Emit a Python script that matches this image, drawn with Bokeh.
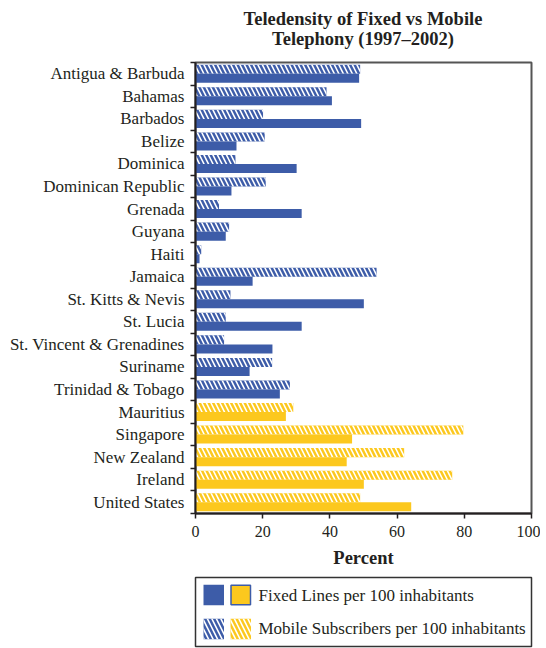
from bokeh.plotting import figure
from bokeh.models import Range1d, FixedTicker, Div, ColumnDataSource
from bokeh.layouts import column
from bokeh.core.properties import value
from bokeh.embed import file_html
from bokeh.resources import INLINE

countries = ["Antigua & Barbuda", "Bahamas", "Barbados", "Belize", "Dominica",
             "Dominican Republic", "Grenada", "Guyana", "Haiti", "Jamaica",
             "St. Kitts & Nevis", "St. Lucia", "St. Vincent & Grenadines",
             "Suriname", "Trinidad & Tobago", "Mauritius", "Singapore",
             "New Zealand", "Ireland", "United States"]
fixed_lines = [48.7, 40.6, 49.3, 12.2, 30.1, 10.7, 31.6, 9.0, 1.2, 17.0,
               50.1, 31.6, 22.9, 16.1, 25.1, 26.9, 46.6, 45.0, 50.1, 64.2]
mobile_subs = [49.0, 39.0, 20.1, 20.6, 11.9, 20.9, 7.0, 10.0, 1.7, 53.9,
               10.4, 9.0, 8.5, 22.8, 28.1, 29.1, 79.7, 62.1, 76.4, 49.0]
groups = ["Caribbean"] * 15 + ["Comparison"] * 5
x_ticks = [0, 20, 40, 60, 80, 100]
title_lines = ["Teledensity of Fixed vs Mobile", "Telephony (1997\u20132002)"]
legend_labels = ["Fixed Lines per 100 inhabitants", "Mobile Subscribers per 100 inhabitants"]

BLUE = "#3d5ca8"
YELLOW = "#fcc81e"
TEXT = "#231f20"
FONT = "Liberation Serif"
HATCH = dict(hatch_pattern="\\", hatch_color="white", hatch_scale=9, hatch_weight=1.6)
colors = [BLUE if g == "Caribbean" else YELLOW for g in groups]

n = len(countries)
centers = [i + 0.5 for i in range(n)]
src = ColumnDataSource(dict(
    country=countries,
    fixed=fixed_lines,
    mobile=mobile_subs,
    y_mobile=[c - 0.2 for c in centers],
    y_fixed=[c + 0.2 for c in centers],
    color=colors,
))

# two-line centred title above the plot frame
title_div = Div(text="<br>".join(title_lines), width=336, height=50,
                margin=(0, 0, 0, 195),
                styles={"font-family": FONT, "font-size": "18.5px", "font-weight": "bold",
                        "line-height": "20px", "text-align": "center", "color": TEXT,
                        "padding-top": "9px", "box-sizing": "border-box"})

p = figure(width=540, height=520, x_range=Range1d(0, 100), y_range=Range1d(n, 0),
           min_border_left=195, min_border_right=9, min_border_top=12,
           min_border_bottom=57, toolbar_location=None, output_backend="svg",
           title=None)

p.hbar(y="y_mobile", right="mobile", left=0, height=0.4, source=src,
       fill_color="color", line_color=None, **HATCH)
p.hbar(y="y_fixed", right="fixed", left=0, height=0.4, source=src,
       fill_color="color", line_color=None)

p.grid.visible = False
p.outline_line_color = "#555555"
p.outline_line_width = 2
p.background_fill_color = "white"
p.border_fill_color = "white"

yax = p.yaxis[0]
yax.ticker = FixedTicker(ticks=centers, minor_ticks=list(range(n + 1)))
yax.major_label_overrides = {c: name for c, name in zip(centers, countries)}
yax.major_tick_out = 0
yax.major_tick_in = 0
yax.minor_tick_out = 5
yax.minor_tick_in = 0
yax.minor_tick_line_color = TEXT
yax.minor_tick_line_width = 1.5
yax.major_label_standoff = 6
yax.major_label_text_font = FONT
yax.major_label_text_font_size = "17px"
yax.major_label_text_color = TEXT
yax.axis_line_color = TEXT
yax.axis_line_width = 2

xax = p.xaxis[0]
xax.ticker = FixedTicker(ticks=x_ticks)
xax.major_tick_out = 5
xax.major_tick_in = 0
xax.minor_tick_out = 0
xax.minor_tick_in = 0
xax.major_tick_line_color = TEXT
xax.major_tick_line_width = 1.5
xax.major_label_standoff = 7
xax.major_label_text_font = FONT
xax.major_label_text_font_size = "16px"
xax.major_label_text_color = TEXT
xax.axis_line_color = TEXT
xax.axis_line_width = 2
xax.axis_label = "Percent"
xax.axis_label_text_font = FONT
xax.axis_label_text_font_size = "18.5px"
xax.axis_label_text_font_style = "bold"
xax.axis_label_text_color = TEXT
xax.axis_label_standoff = 8

# legend panel
lg = figure(width=540, height=78, x_range=Range1d(0, 336), y_range=Range1d(69, 0),
            min_border_left=195, min_border_right=9, min_border_top=7,
            min_border_bottom=2, toolbar_location=None, output_backend="svg",
            x_axis_type=None, y_axis_type=None, title=None)
lg.grid.visible = False
lg.outline_line_color = "#333333"
lg.outline_line_width = 1.5
lg.border_fill_color = "white"

row_y = [17.5, 51.5]
sw = 10.3
lg.quad(left=[8], right=[28.5], top=[row_y[0] - sw], bottom=[row_y[0] + sw],
        fill_color=BLUE, line_color=None)
lg.quad(left=[35.5], right=[55], top=[row_y[0] - sw + 0.5], bottom=[row_y[0] + sw - 0.5],
        fill_color=YELLOW, line_color=BLUE, line_width=1.5)
lg.quad(left=[8, 35], right=[28.5, 55.5], top=[row_y[1] - sw] * 2, bottom=[row_y[1] + sw] * 2,
        fill_color=[BLUE, YELLOW], line_color=None, **HATCH)
lg.text(x=[63, 63], y=[row_y[0], row_y[1] - 1], text=legend_labels, text_font=value(FONT),
        text_font_size="17px", text_color=TEXT, text_baseline="middle", text_align="left")

layout = column(title_div, p, lg, spacing=0)
open("out.html", "w").write(file_html(layout, INLINE))
